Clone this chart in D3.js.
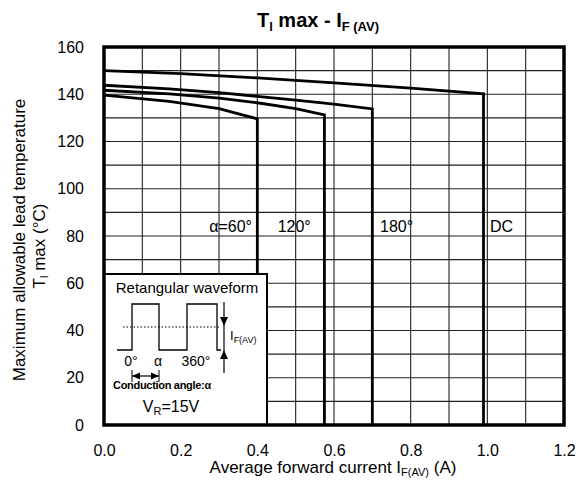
<!DOCTYPE html>
<html>
<head>
<meta charset="utf-8">
<script src="https://cdn.jsdelivr.net/npm/d3@7"></script>
<style>
  body { margin: 0; background: #fff; }
  text { font-family: "Liberation Sans", Arial, sans-serif; fill: #000; }
</style>
</head>
<body>
<div id="chart"></div>
<script>
const width = 580, height = 480;

// conduction angle curves: current (A) and max lead temperature (°C)
const curveNames = ["60", "120", "180", "DC"];
const current60  = [0, 0.17, 0.3, 0.4, 0.4];
const temp60     = [139.6, 137.0, 133.9, 129.6, 0];
const current120 = [0, 0.17, 0.3, 0.4, 0.5, 0.575, 0.575];
const temp120    = [141.7, 140.2, 138.4, 136.4, 133.9, 131.3, 0];
const current180 = [0, 0.17, 0.3, 0.4, 0.5, 0.6, 0.7, 0.7];
const temp180    = [143.8, 142.3, 140.7, 139.1, 137.5, 135.8, 133.8, 0];
const currentDC  = [0, 0.2, 0.4, 0.6, 0.8, 0.99, 0.99];
const tempDC     = [150.0, 148.7, 146.9, 144.8, 142.6, 140.2, 0];

const xTicks = [0, 0.2, 0.4, 0.6, 0.8, 1.0, 1.2];
const yTicks = [0, 20, 40, 60, 80, 100, 120, 140, 160];

const curves = [
  {name: curveNames[0], I: current60,  T: temp60},
  {name: curveNames[1], I: current120, T: temp120},
  {name: curveNames[2], I: current180, T: temp180},
  {name: curveNames[3], I: currentDC,  T: tempDC}
];

const x = d3.scaleLinear().domain([0, 1.2]).range([104, 564]);
const y = d3.scaleLinear().domain([0, 160]).range([425, 47]);

const svg = d3.select("#chart").append("svg")
    .attr("width", width)
    .attr("height", height);

// grid
const grid = svg.append("g").attr("stroke", "#222").attr("stroke-width", 1.1);
grid.selectAll(".gx")
    .data(d3.range(1, 12).map(i => i / 10))
    .join("line")
    .attr("x1", d => x(d)).attr("x2", d => x(d))
    .attr("y1", y(0)).attr("y2", y(160));
grid.selectAll(".gy")
    .data(d3.range(10, 160, 10))
    .join("line")
    .attr("x1", x(0)).attr("x2", x(1.2))
    .attr("y1", d => y(d)).attr("y2", d => y(d));

// curves
const line = d3.line().x(d => x(d[0])).y(d => y(d[1]));
svg.append("g").selectAll("path")
    .data(curves)
    .join("path")
    .attr("d", c => line(c.I.map((v, i) => [v, c.T[i]])))
    .attr("fill", "none")
    .attr("stroke", "#000")
    .attr("stroke-width", 2.8);

// axes tick labels
const xAxis = svg.append("g")
    .attr("transform", `translate(0,${y(0)})`)
    .call(d3.axisBottom(x).tickValues(xTicks).tickFormat(d3.format(".1f")).tickSize(0).tickPadding(20));
xAxis.select(".domain").remove();
xAxis.selectAll("text").attr("font-size", 16).attr("font-family", "Liberation Sans, Arial, sans-serif");

const yAxis = svg.append("g")
    .attr("transform", `translate(${x(0)},0)`)
    .call(d3.axisLeft(y).tickValues(yTicks).tickSize(0).tickPadding(20));
yAxis.select(".domain").remove();
yAxis.selectAll("text").attr("font-size", 16).attr("font-family", "Liberation Sans, Arial, sans-serif");

// curve labels
const lbl = svg.append("g").attr("font-size", 16);
lbl.append("text").attr("x", x(0.386)).attr("y", y(81.5)).attr("text-anchor", "end").text("α=60°");
lbl.append("text").attr("x", x(0.453)).attr("y", y(81.5)).text("120°");
lbl.append("text").attr("x", x(0.72)).attr("y", y(81.5)).text("180°");
lbl.append("text").attr("x", x(1.007)).attr("y", y(81.5)).text("DC");

// inset
const ix = 104, iy = 274;
const inset = svg.append("g").attr("transform", `translate(${ix},${iy})`);
inset.append("rect").attr("x", 0).attr("y", 0).attr("width", 163).attr("height", 151)
    .attr("fill", "#fff").attr("stroke", "#000").attr("stroke-width", 2);
inset.append("text").attr("x", 83).attr("y", 19).attr("text-anchor", "middle")
    .attr("font-size", 15).text("Retangular waveform");
inset.append("path")
    .attr("d", "M13,76H28V30H55V76H83V30H113V76H117")
    .attr("fill", "none").attr("stroke", "#000").attr("stroke-width", 1.3);
inset.append("line").attr("x1", 19).attr("x2", 116).attr("y1", 53).attr("y2", 53)
    .attr("stroke", "#000").attr("stroke-width", 1).attr("stroke-dasharray", "1.5,2");
inset.append("line").attr("x1", 120).attr("x2", 120).attr("y1", 28).attr("y2", 99)
    .attr("stroke", "#000").attr("stroke-width", 1.2);
inset.append("path").attr("d", "M116,43H124L120,52Z");
inset.append("path").attr("d", "M116,85H124L120,76Z");
const ifav = inset.append("text").attr("x", 126).attr("y", 66).attr("font-size", 13);
ifav.append("tspan").text("I");
ifav.append("tspan").attr("font-size", 9).attr("dy", 3).text("F(AV)");
inset.append("text").attr("x", 27).attr("y", 92).attr("text-anchor", "middle").attr("font-size", 14).text("0°");
inset.append("text").attr("x", 54).attr("y", 92).attr("text-anchor", "middle").attr("font-size", 14).text("α");
inset.append("text").attr("x", 92).attr("y", 92).attr("text-anchor", "middle").attr("font-size", 14).text("360°");
inset.append("line").attr("x1", 28).attr("x2", 55).attr("y1", 102).attr("y2", 102)
    .attr("stroke", "#000").attr("stroke-width", 1.2);
inset.append("line").attr("x1", 28).attr("x2", 28).attr("y1", 96).attr("y2", 108).attr("stroke", "#000");
inset.append("line").attr("x1", 55).attr("x2", 55).attr("y1", 96).attr("y2", 108).attr("stroke", "#000");
inset.append("path").attr("d", "M28,102L36,98.5V105.5Z");
inset.append("path").attr("d", "M55,102L47,98.5V105.5Z");
inset.append("text").attr("x", 9).attr("y", 115).attr("font-size", 11).attr("font-weight", "bold")
    .attr("letter-spacing", -0.3).text("Conduction angle:α");
const vr = inset.append("text").attr("x", 67).attr("y", 138).attr("text-anchor", "middle").attr("font-size", 16);
vr.append("tspan").text("V");
vr.append("tspan").attr("font-size", 11).attr("dy", 3).text("R");
vr.append("tspan").attr("dy", -3).text("=15V");

// frame
svg.append("rect")
    .attr("x", x(0)).attr("y", y(160))
    .attr("width", x(1.2) - x(0)).attr("height", y(0) - y(160))
    .attr("fill", "none").attr("stroke", "#000").attr("stroke-width", 3.5);

// title
const title = svg.append("text").attr("x", 318).attr("y", 27).attr("text-anchor", "middle")
    .attr("font-size", 20).attr("font-weight", "bold");
title.append("tspan").text("T");
title.append("tspan").attr("font-size", 13).attr("dy", 4).text("l");
title.append("tspan").attr("dy", -4).text(" max - I");
title.append("tspan").attr("font-size", 13).attr("dy", 4).text("F (AV)");

// x axis title
const xt = svg.append("text").attr("x", 333).attr("y", 473).attr("text-anchor", "middle").attr("font-size", 17);
xt.append("tspan").text("Average forward current I");
xt.append("tspan").attr("font-size", 11).attr("dy", 3).text("F(AV)");
xt.append("tspan").attr("dy", -3).text(" (A)");

// y axis title
const yt = svg.append("g").attr("transform", "translate(25,240) rotate(-90)");
yt.append("text").attr("x", 0).attr("y", 0).attr("text-anchor", "middle").attr("font-size", 17)
    .text("Maximum allowable lead temperature");
const yt2 = yt.append("text").attr("x", -6).attr("y", 20).attr("text-anchor", "middle").attr("font-size", 17);
yt2.append("tspan").text("T");
yt2.append("tspan").attr("font-size", 11).attr("dy", 3).text("l");
yt2.append("tspan").attr("dy", -3).text(" max (°C)");
</script>
</body>
</html>
